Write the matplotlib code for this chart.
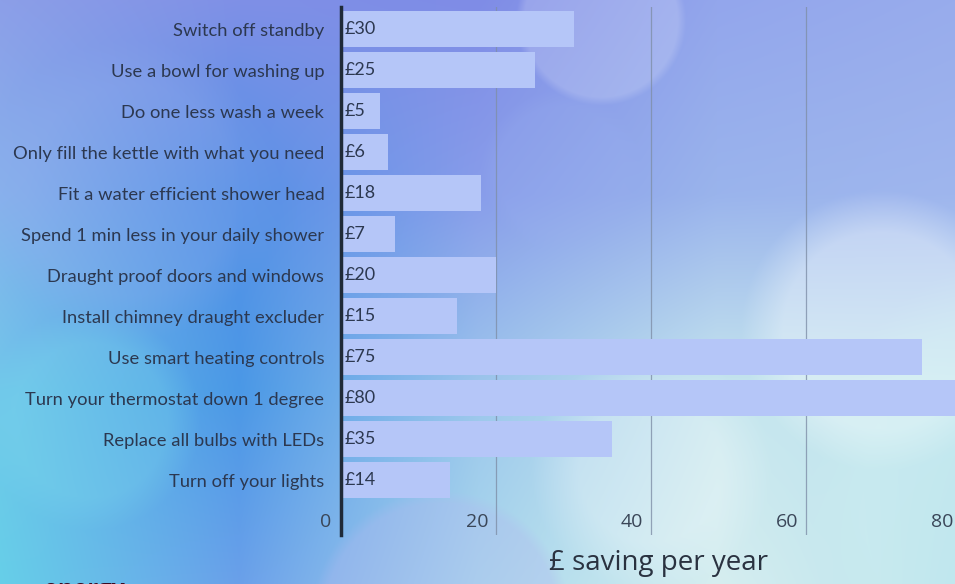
import numpy as np
import matplotlib
matplotlib.use("Agg")
import matplotlib.pyplot as plt
from matplotlib.transforms import offset_copy

# ---- data ----
categories = [
    "Switch off standby",
    "Use a bowl for washing up",
    "Do one less wash a week",
    "Only fill the kettle with what you need",
    "Fit a water efficient shower head",
    "Spend 1 min less in your daily shower",
    "Draught proof doors and windows",
    "Install chimney draught excluder",
    "Use smart heating controls",
    "Turn your thermostat down 1 degree",
    "Replace all bulbs with LEDs",
    "Turn off your lights",
]
savings = [30, 25, 5, 6, 18, 7, 20, 15, 75, 80, 35, 14]
x_ticks = [0, 20, 40, 60, 80]
x_title = "£ saving per year"

W, H = 955, 584
fig = plt.figure(figsize=(W / 100, H / 100), dpi=100)

# ---- decorative bokeh background ----
def hexrgb(h):
    h = h.lstrip("#")
    return np.array([int(h[i:i + 2], 16) / 255 for i in (0, 2, 4)])

grid_cols = [
    ["#8c9fe8", "#7f90e6", "#7f8ce6", "#93a6ec", "#98acec"],
    ["#86b0ec", "#5590e6", "#889dea", "#9ab4ec", "#9fb6ee"],
    ["#6fc6ea", "#4a98e6", "#9cc6ec", "#c6e6ee", "#bfe4ee"],
    ["#66cfe8", "#6aa0ea", "#a8d8ec", "#d6eef0", "#b8e2ec"],
]
G = np.array([[hexrgb(c) for c in row] for row in grid_cols])
gy = np.linspace(0, 1, G.shape[0])
gx = np.linspace(0, 1, G.shape[1])
yy = np.linspace(0, 1, H)
xx = np.linspace(0, 1, W)
tmp = np.zeros((G.shape[0], W, 3))
for i in range(G.shape[0]):
    for c in range(3):
        tmp[i, :, c] = np.interp(xx, gx, G[i, :, c])
img = np.zeros((H, W, 3))
for c in range(3):
    img[:, :, c] = np.array([np.interp(yy, gy, tmp[:, j, c]) for j in range(W)]).T

X, Y = np.meshgrid(np.arange(W), np.arange(H))
def blob(cx, cy, r, col, a, soft=0.08):
    d = np.sqrt((X - cx) ** 2 + (Y - cy) ** 2) / r
    m = np.clip((1 - d) / soft, 0, 1) * a
    for c in range(3):
        img[:, :, c] = img[:, :, c] * (1 - m) + col[c] * m

white = hexrgb("#ffffff")
cyan = hexrgb("#d8f6f4")
blob(880, 330, 140, white, 0.35, 0.3)
blob(1070, 500, 260, cyan, 0.25, 0.2)
blob(600, 20, 85, white, 0.18, 0.1)
blob(440, 620, 130, hexrgb("#b0b8f0"), 0.35, 0.1)
blob(650, 470, 120, white, 0.25, 0.4)
blob(130, 190, 150, hexrgb("#a0b4ee"), 0.18, 0.3)
blob(90, 420, 110, hexrgb("#80e0ec"), 0.25, 0.3)
blob(560, 170, 80, hexrgb("#9ab0ee"), 0.2, 0.2)
img = np.clip(img, 0, 1)

bg = fig.add_axes([0, 0, 1, 1], zorder=0)
bg.imshow(img, aspect="auto", extent=[0, W, H, 0], interpolation="bilinear")
bg.set_axis_off()

# ---- main chart ----
ax_left = 341 / W
ax_width = 620 / W
ax_bottom = 1 - 535 / H
ax_height = (535 - 7) / H
ax = fig.add_axes([ax_left, ax_bottom, ax_width, ax_height], zorder=1)
ax.patch.set_alpha(0)

pos = np.arange(len(categories))
ax.barh(pos, savings, height=0.88, color="#b5c6f8", zorder=2)
ax.set_xlim(0, 80)
ax.set_ylim(12.34, -0.54)

for v in x_ticks[1:]:
    ax.axvline(v, color="#7f8fa8", lw=0.9, alpha=0.8, zorder=1)

for s in ["top", "right", "bottom"]:
    ax.spines[s].set_visible(False)
ax.spines["left"].set_color("#1f2a38")
ax.spines["left"].set_linewidth(2.5)
ax.spines["left"].set_zorder(3)

ax.set_xticks([])
ax.set_yticks(pos)
ax.set_yticklabels(categories, fontsize=13.2, family="Lato", color="#2c3850")
ax.tick_params(axis="y", length=0, pad=12)

# bar value labels
for p, v in zip(pos, savings):
    t = offset_copy(ax.transData, fig=fig, x=4, y=0, units="dots")
    ax.text(0, p, f"£{v}", transform=t, ha="left", va="center",
            fontsize=13, family="Lato", color="#2c3850", zorder=4)

# x tick labels (drawn left of gridlines)
for v in x_ticks:
    t = offset_copy(ax.transData, fig=fig, x=-8 if v else -10, y=0, units="dots")
    ax.text(v, 12.02, f"{v}", transform=t, ha="right", va="center",
            fontsize=14, family="Open Sans", color="#3a4658", zorder=4)

fig.text(658 / W, 1 - 563 / H, x_title, ha="center", va="center",
         fontsize=20, family="Open Sans", color="#2a3240", zorder=5)

# partially visible logo at the bottom edge, as in the reference
fig.text(44 / W, 1 - 590 / H, "energy", ha="left", va="center",
         fontsize=17, family="Open Sans", weight="bold", color="#3a0a22", zorder=5)

fig.savefig("out.png", dpi=100)
